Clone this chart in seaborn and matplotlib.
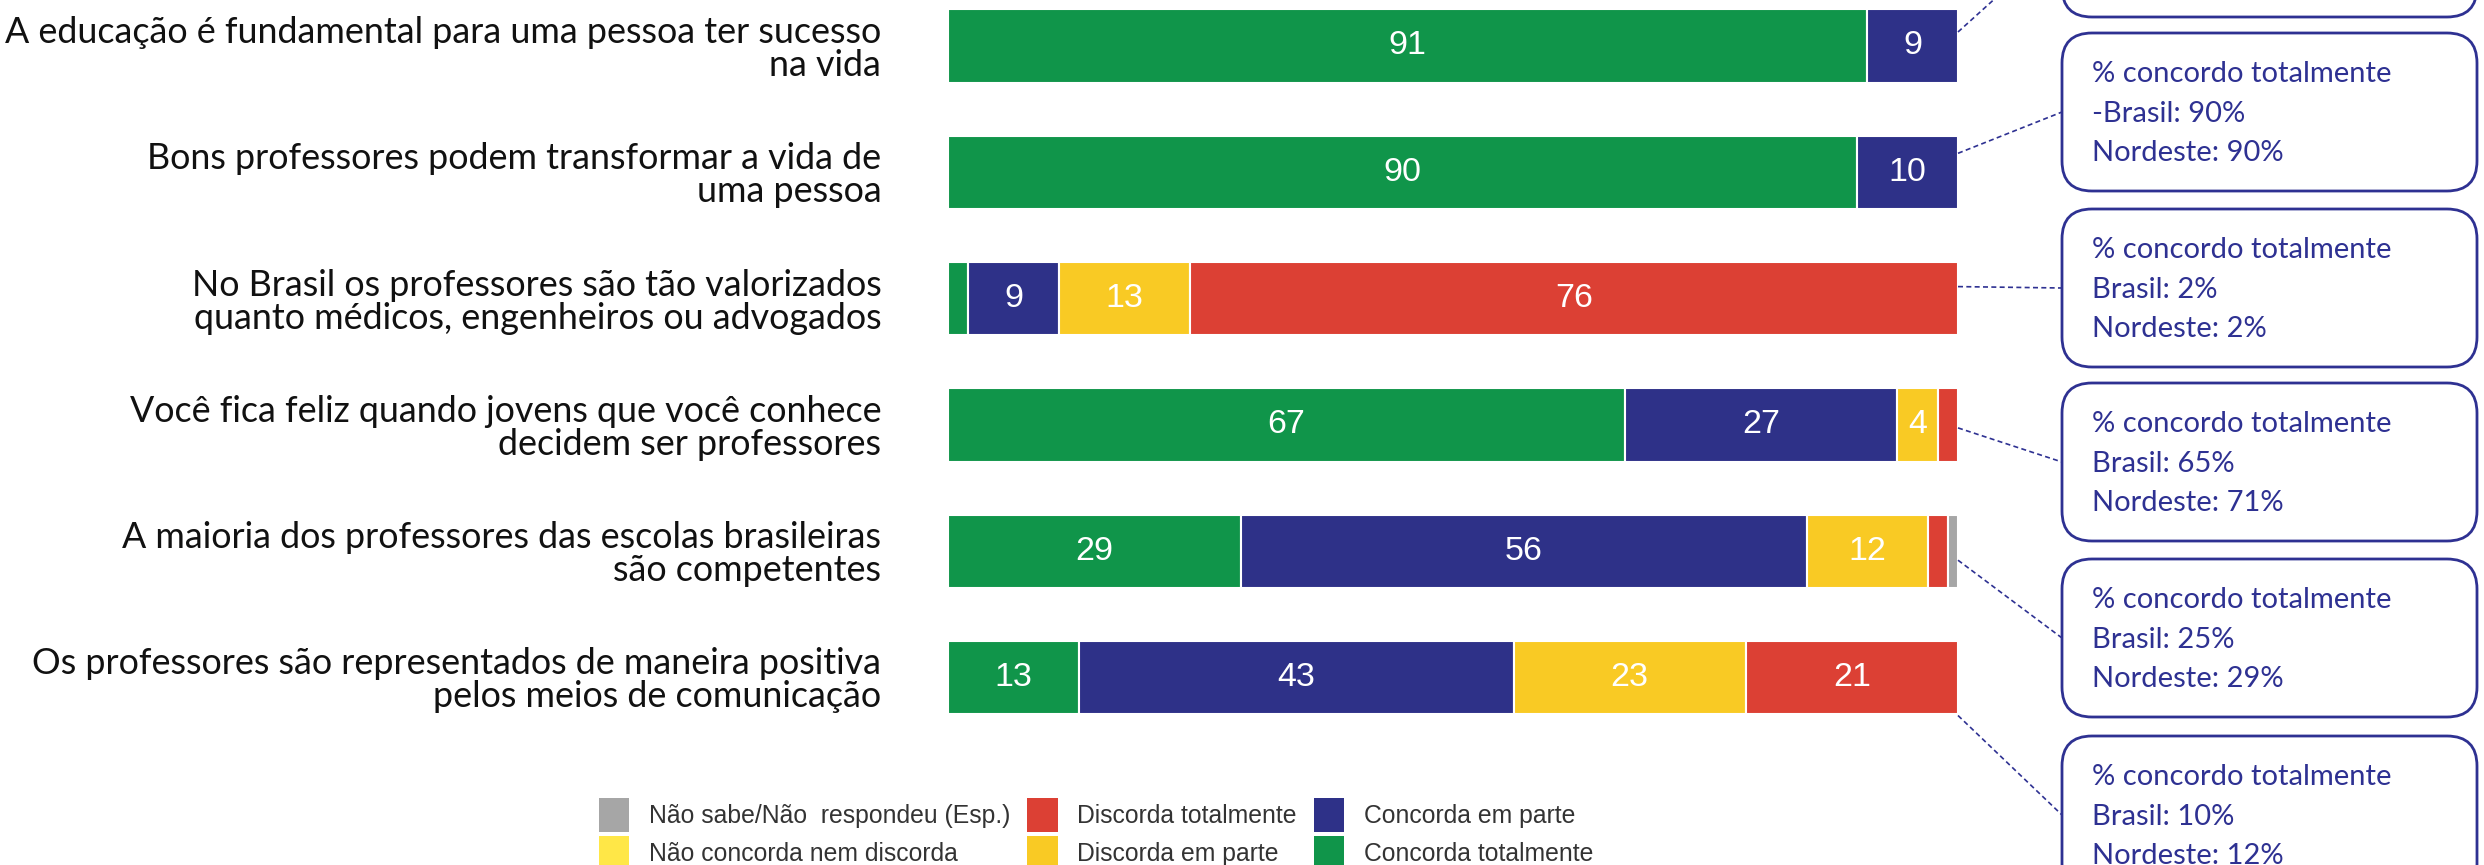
import numpy as np
import matplotlib
matplotlib.use("Agg")
import matplotlib.pyplot as plt
from matplotlib.patches import Patch, FancyBboxPatch
import seaborn as sns

# ---------------- data ----------------
categories = [
    "A educação é fundamental para uma pessoa ter sucesso\nna vida",
    "Bons professores podem transformar a vida de\numa pessoa",
    "No Brasil os professores são tão valorizados\nquanto médicos, engenheiros ou advogados",
    "Você fica feliz quando jovens que você conhece\ndecidem ser professores",
    "A maioria dos professores das escolas brasileiras\nsão competentes",
    "Os professores são representados de maneira positiva\npelos meios de comunicação",
]
concorda_totalmente = [91, 90, 2, 67, 29, 13]
concorda_em_parte = [9, 10, 9, 27, 56, 43]
discorda_em_parte = [0, 0, 13, 4, 12, 23]
discorda_totalmente = [0, 0, 76, 2, 2, 21]
nao_sabe = [0, 0, 0, 0, 1, 0]
nem_concorda_nem_discorda = [0, 0, 0, 0, 0, 0]

stack_names = ["Concorda totalmente", "Concorda em parte", "Discorda em parte",
               "Discorda totalmente", "Não sabe/Não  respondeu (Esp.)"]
stack_values = [concorda_totalmente, concorda_em_parte, discorda_em_parte,
                discorda_totalmente, nao_sabe]

legend_labels = ["Não sabe/Não  respondeu (Esp.)", "Não concorda nem discorda",
                 "Discorda totalmente", "Discorda em parte",
                 "Concorda em parte", "Concorda totalmente"]

box_brasil = [None, "-Brasil: 90%", "Brasil: 2%", "Brasil: 65%", "Brasil: 25%", "Brasil: 10%"]
box_nordeste = [None, "Nordeste: 90%", "Nordeste: 2%", "Nordeste: 71%", "Nordeste: 29%", "Nordeste: 12%"]
box_title = "% concordo totalmente"

# ---------------- style ----------------
palette = {
    "Concorda totalmente": "#10954A",
    "Concorda em parte": "#2E3188",
    "Discorda em parte": "#F9CA24",
    "Discorda totalmente": "#DC4034",
    "Não sabe/Não  respondeu (Esp.)": "#A6A6A6",
    "Não concorda nem discorda": "#FFE747",
}
navy = "#2E3192"

sns.set_theme(style="white")
plt.rcParams["font.family"] = ["Lato", "DejaVu Sans"]

W, H = 2484, 865
fig = plt.figure(figsize=(W / 100, H / 100), dpi=100)

bar_top_px = 46.0      # centre of first bar
bar_step_px = 126.3
ax_top = bar_top_px - 0.5 * bar_step_px
ax_bot = bar_top_px + 5.5 * bar_step_px
ax = fig.add_axes([948 / W, 1 - ax_bot / H, 1010 / W, (ax_bot - ax_top) / H])

cats = np.array(categories)
left = np.zeros(len(categories))
for name, vals in zip(stack_names, stack_values):
    vals = np.asarray(vals, dtype=float)
    m = vals > 0
    sns.barplot(x=vals[m], y=cats[m], order=categories, orient="y",
                color=palette[name], saturation=1, width=0.58, errorbar=None,
                left=left[m], edgecolor="white", linewidth=1.5, ax=ax)
    cont = ax.containers[-1]
    ax.bar_label(cont, labels=[f"{v:g}" if v >= 4 else "" for v in vals[m]],
                 label_type="center", color="white", fontsize=24.5,
                 family=["Liberation Sans", "DejaVu Sans"])
    left += vals

ax.set_xlim(0, 100)
ax.set_ylim(5.5, -0.5)
ax.set_xlabel("")
ax.set_ylabel("")
ax.set_xticks([])
ax.set_yticks(range(len(categories)))
ax.set_yticklabels(categories, fontsize=25.8, color="#111111", linespacing=1.0)
ax.tick_params(axis="y", length=0, pad=48)
for s in ax.spines.values():
    s.set_visible(False)
ax.patch.set_alpha(0)

# ---------------- legend ----------------
handles = [Patch(facecolor=palette[l], edgecolor="none") for l in legend_labels]
fig.legend(handles, legend_labels, ncol=3, loc="upper left",
           bbox_to_anchor=(599 / W, 1 - 798 / H), frameon=False,
           prop={"family": ["Liberation Sans", "DejaVu Sans"], "size": 17.8},
           labelcolor="#333333", handlelength=1.23, handleheight=1.71,
           handletextpad=0.78, columnspacing=0.7, labelspacing=0.2,
           borderpad=0, borderaxespad=0)

# ---------------- callout boxes ----------------
ov = fig.add_axes([0, 0, 1, 1])
ov.set_xlim(0, W)
ov.set_ylim(H, 0)
ov.axis("off")
ov.patch.set_alpha(0)

box_left, box_w, box_h = 2062, 415, 158
box_tops = [-141, 33, 209, 383, 559, 736]
start_offsets = [-14, -19, -12, 3, 9, 38]

for i in range(len(categories)):
    xd, yd = ax.transData.transform((100, i))
    sx, sy = xd, H - yd + start_offsets[i]
    top = box_tops[i]
    ov.add_patch(FancyBboxPatch((box_left, top), box_w, box_h,
                                boxstyle="round,pad=0,rounding_size=30",
                                facecolor="white", edgecolor=navy, linewidth=2,
                                clip_on=False))
    ov.plot([sx, box_left], [sy, top + box_h / 2], color=navy, lw=1.2,
            linestyle=(0, (3, 2)), clip_on=False)
    if box_brasil[i] is not None:
        for txt, off in zip([box_title, box_brasil[i], box_nordeste[i]], [49, 89, 128]):
            ov.text(box_left + 30, top + off, txt, color=navy, fontsize=21,
                    va="baseline", ha="left", clip_on=False)

fig.savefig("out.png", dpi=100)
